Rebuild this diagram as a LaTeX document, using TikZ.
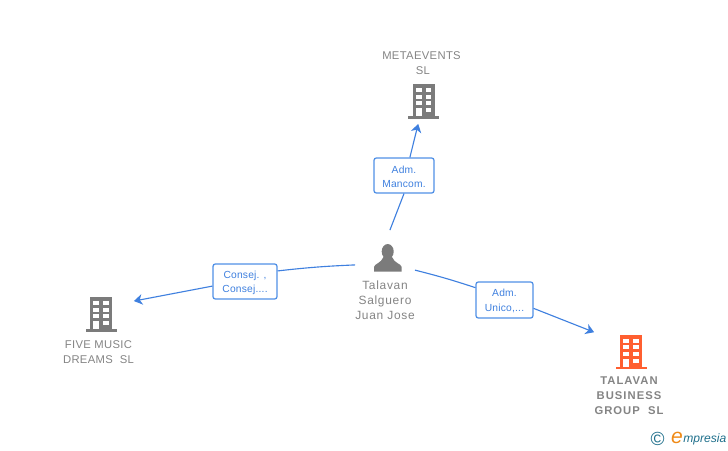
\documentclass[tikz,border=0pt]{standalone}
\usepackage{fontspec}
\setmainfont{Liberation Sans}
\usepackage{tikz}
\usetikzlibrary{arrows,arrows.meta,shapes,calc}
\usetikzlibrary{positioning}
\definecolor{linkblue}{HTML}{3F80DF}
\definecolor{boxblue}{HTML}{5090E6}
\definecolor{iconorange}{HTML}{FF5F30}
\definecolor{icongray}{HTML}{7B7B7B}
\definecolor{labelgray}{HTML}{848484}
\definecolor{logoteal}{HTML}{1F6F8B}
\definecolor{logoorange}{HTML}{EF8A17}
\newcommand{\lowerrow}{\rule{0pt}{7.2pt}}
\tikzstyle{aS}=[draw=linkblue,line width=0.8pt,->,>={Stealth[length=6pt,width=7.5pt,inset=1.8pt]}]
\tikzstyle{lnk}=[draw=linkblue,line width=0.8pt]
\tikzstyle{role}=[draw=boxblue,line width=0.9pt,fill=white,rounded corners=1.5pt,text=linkblue,align=center,
                inner sep=0,font=\fontsize{7.3}{10.6}\selectfont\addfontfeatures{LetterSpace=2}]
\tikzstyle{site}=[inner sep=0,outer sep=0,minimum height=28.35pt]
\tikzstyle{lbl}=[text=labelgray,align=center,inner sep=0,font=\fontsize{8}{10.6}\selectfont\addfontfeatures{LetterSpace=3}]
\tikzset{
  pics/bldg/.style={code={
    \fill[#1] (-11,-34) rectangle (11,-2);
    \fill[#1] (-15.5,-2) rectangle (15.5,0.5);
    \foreach \r in {-30,-23.4,-16.8} {
      \fill[white] (-7.7,\r) rectangle (-2,\r+4);
      \fill[white] (2,\r) rectangle (7.5,\r+4);
    }
    \fill[white] (2,-10) rectangle (7.5,-6);
    \fill[white] (-7.7,-10) rectangle (-2,-2);
  }}
}
\begin{document}
\begin{tikzpicture}[x=0.025cm,y=-0.025cm]
\useasboundingbox (0,0) rectangle (728,450);
% the person
\node[site,minimum width=60*0.709pt,minimum height=56*0.709pt] (Tal) at (385,258) {};
\fill[icongray] (387.7,251.5) ellipse (6 and 7.5);
\fill[icongray] (374,271.5) -- (374,267) .. controls (374.5,263.5) and (381,263.5) .. (383.5,257)
  -- (392,257) .. controls (394.5,263.5) and (401,263.5) .. (401.7,267) -- (401.7,271.5) -- cycle;
\node[lbl,font=\fontsize{8.5}{10.6}\selectfont\addfontfeatures{LetterSpace=6}] (TalText) at (385,300.5) {Talavan\\Salguero\\Juan Jose};
% the companies
\node[site,minimum width=30pt] (Meta) at (423.5,104) {};
\node[site,minimum width=66*0.709pt] (Five) at (101,315) {};
\node[site,minimum width=74*0.709pt] (Group) at (631,351) {};
\pic at (423.5,118) {bldg=icongray};
\pic at (101,331) {bldg=icongray};
\pic at (631,368.5) {bldg=iconorange};
\node[lbl] (MetaText) at (421.5,63.5) {METAEVENTS\\\hspace*{2pt}SL};
\node[lbl] (FiveText) at (98.5,352.5) {FIVE MUSIC\\DREAMS\ \ SL};
\node[lbl,font=\fontsize{8}{10.6}\selectfont\bfseries\addfontfeatures{LetterSpace=9}] (GroupText) at (629,396) {TALAVAN\\BUSINESS\\GROUP\ \ SL};
% the roles
\node[role,minimum width=60*0.709pt,minimum height=35*0.709pt] (Mancom) at (404,175.5) {\lowerrow Adm.\\Mancom.};
\node[role,minimum width=64*0.709pt,minimum height=35*0.709pt] (Consej) at (245,281.5) {\lowerrow Consej. ,\\Consej....};
\node[role,minimum width=57*0.709pt,minimum height=36*0.709pt] (Unico) at (504.5,300) {\lowerrow Adm.\\Unico,...};
% links
\draw[lnk] (Tal.80) -- (Mancom.south);
\draw[aS] (Mancom.72) -- (Meta.255);
\draw[lnk] (Tal.193) to[bend right=2] (Consej.18);
\draw[aS] (Consej.188) -- (Five.23);
\draw[lnk] (Tal.-22) to[bend left=2] (Unico.157);
\draw[aS] (Unico.-16) -- (Group.153);
% logo
\node[text=logoteal,inner sep=0,font=\fontsize{13.5}{13.5}\selectfont] (LogoC) at (657.5,438.5) {©};
\node[text=logoorange,inner sep=0,font=\fontsize{15}{15}\selectfont\itshape] (LogoE) at (677,438) {e};
\node[text=logoteal,inner sep=0,anchor=west,font=\fontsize{8.6}{8.6}\selectfont\itshape] (LogoT) at (683,439) {mpresia};
\end{tikzpicture}
\end{document}
